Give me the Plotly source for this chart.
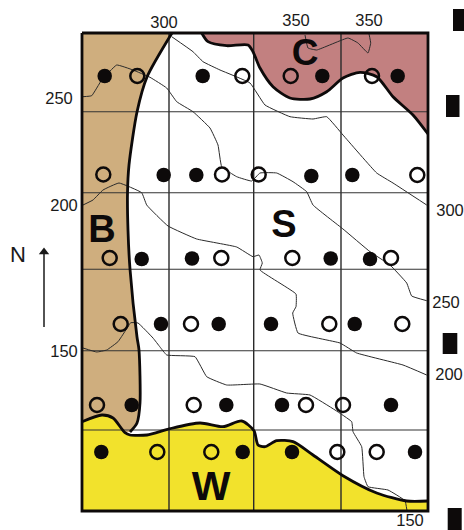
import plotly.graph_objects as go

# All positions (map sheet units, origin top-left)
SHEET_W, SHEET_H = 464, 530
FRAME_X = [82, 428, 428, 82, 82]
FRAME_Y = [33, 33, 511, 511, 33]
GRID_X = [169, 253.7, 341]
GRID_Y = [111.7, 192.7, 269.3, 350.7, 430]

BROWN_CURVE_X = [172, 147, 137, 129, 127.5, 128, 130, 137, 139, 140, 137, 130]
BROWN_CURVE_Y = [33, 77, 112, 165, 193, 230, 269, 337, 350, 403, 423, 432]
YELLOW_CURVE_X = [82, 102, 113, 125, 130, 147, 170, 200, 223, 241.7, 254, 258, 265, 276.7, 293, 313, 343, 376.7, 406.7, 428]
YELLOW_CURVE_Y = [421.7, 415, 418, 432.7, 435, 435, 428.7, 423, 426.7, 421, 430.7, 445, 446.7, 440.7, 441.7, 455, 475.7, 493, 501, 501]
PINK_CURVE_X = [201.7, 208, 226.7, 248, 253, 260, 273, 290, 310, 326.7, 343, 360, 376.7, 393, 413, 428]
PINK_CURVE_Y = [33, 41.7, 45.7, 45, 51.7, 68, 86.7, 98, 99, 91.7, 78, 72.3, 76.7, 96.7, 115, 134]

RIVER_1_X = [83, 91.7, 101.7, 116.7, 133, 150, 166.7, 176.7, 193, 210, 218, 221.7, 236.7, 251.7, 260, 276.7, 293, 306.7, 313, 343, 370, 390, 406.7, 411.7, 426.7]
RIVER_1_Y = [96.7, 95.7, 80, 65, 70, 77.3, 88, 101.7, 111.7, 128, 145, 166.7, 176.7, 181, 173, 173, 181.7, 191.7, 205, 229, 251.7, 265, 283, 296, 300.7]
RIVER_2_X = [171.7, 193, 203, 220, 250, 265, 290, 313, 326.7, 343, 376.7, 393, 426.7]
RIVER_2_Y = [36.7, 51.7, 61.7, 70, 83, 105, 116.7, 119, 116.7, 135, 173, 183, 205]
RIVER_3_X = [83, 93, 103, 119, 141.7, 146.7, 168, 196.7, 236.7, 253, 259, 262.3, 260, 296, 296, 292.7, 298, 340, 356.7, 403, 426.7]
RIVER_3_Y = [205, 200, 190, 183, 192.7, 205, 226, 239, 247, 256.7, 255, 263, 270, 294, 306.7, 313, 333, 343, 353, 365, 375]
RIVER_4_X = [83, 96.7, 106.7, 118, 128, 130.7, 138, 153, 160, 166.7, 195, 206.7, 226.7, 260, 286.7, 310, 335, 351.7, 353, 361.7, 364, 368, 388, 405, 407]
RIVER_4_Y = [348, 352, 350, 341.7, 326.7, 322.7, 323, 338, 347, 355, 356.7, 376.7, 385, 384, 393, 395, 410, 421.7, 431.7, 446.7, 476.7, 486.7, 490, 500.7, 510.7]
RIVER_5_X = [305, 308, 316.7, 348, 358, 368, 370.7, 369]
RIVER_5_Y = [35, 48, 50, 38, 43, 53, 43, 34]

FILLED_X = [104.7, 202.7, 322.3, 397.7, 163.7, 196.3, 311.3, 352.3, 141.7, 192, 330.7, 370, 161, 218.7, 271, 354.7, 131.7, 226.3, 282, 391, 101.3, 242.7, 292, 415]
FILLED_Y = [76, 76, 76, 76, 175, 175, 176, 175, 259, 258.5, 258.5, 259, 324, 324, 324, 324, 405, 405, 405, 405, 452, 452, 452, 452]
OPEN_X = [137.3, 242.3, 290.7, 372, 103.3, 222, 258.7, 417.3, 109.7, 221.3, 292.3, 391, 120.7, 191, 329.3, 402.3, 97, 193.7, 306, 343, 157.3, 211.3, 337.3, 376.7]
OPEN_Y = [76, 76, 76, 76, 174.5, 174.5, 174.5, 175, 258, 258, 258, 258, 324, 324, 324, 324, 405, 405, 405, 405, 452, 452, 452, 452]

CONTOUR_TEXT = ["300", "350", "350", "250", "200", "150", "300", "250", "200", "150"]
CONTOUR_X = [164, 296, 369, 59, 64, 64, 450, 446, 449, 410]
CONTOUR_Y = [24, 21.5, 22, 100, 207, 353, 212, 304, 376, 521.5]
ZONE_TEXT = ["C", "B", "S", "W"]
ZONE_X = [305, 102, 284, 211]
ZONE_Y = [56, 232.5, 227.5, 489.5]
ZONE_SIZE = [37, 38, 38, 41]

BAR_X0 = [453, 446, 442.7, 447.7]
BAR_X1 = [464, 459.5, 457.3, 461.7]
BAR_Y0 = [9, 95, 333, 508]
BAR_Y1 = [31, 117, 354, 530]

ARROW_X = [44, 44]
ARROW_Y = [327, 252]

BROWN, PINK, YELLOW = "#cfae7e", "#c28080", "#f2e22c"
INK = "#0d0a0a"

fig = go.Figure()


def line(x, y, width, color=INK, shape="spline", smoothing=0.7):
    kw = dict(shape=shape, width=width, color=color)
    if shape == "spline":
        kw["smoothing"] = smoothing
    fig.add_trace(go.Scatter(x=x, y=y, mode="lines", line=kw, hoverinfo="skip", showlegend=False))


def area(x, y, color):
    fig.add_trace(go.Scatter(x=x, y=y, mode="lines", fill="toself", fillcolor=color,
                             line=dict(width=0, color=color, shape="spline", smoothing=0.7),
                             hoverinfo="skip", showlegend=False))


L, R, T, B = FRAME_X[0], FRAME_X[1], FRAME_Y[0], FRAME_Y[2]

# zones: curve plus the corners of the frame (repeated so they stay sharp)
area(BROWN_CURVE_X + [BROWN_CURVE_X[-1], L, L, L, L, L, L],
     BROWN_CURVE_Y + [BROWN_CURVE_Y[-1], 432, 432, 432, T, T, T], BROWN)
area(PINK_CURVE_X + [R, R, R, R],
     PINK_CURVE_Y + [PINK_CURVE_Y[-1], T, T, T], PINK)
area(YELLOW_CURVE_X + [R, R, R, L, L, L],
     YELLOW_CURVE_Y + [B, B, B, B, B, B], YELLOW)

for gx in GRID_X:
    line([gx, gx], [T, B], 1.4, "#2a2a2a", "linear")
for gy in GRID_Y:
    line([L, R], [gy, gy], 1.1, "#333333", "linear")

for rx, ry in [(RIVER_1_X, RIVER_1_Y), (RIVER_2_X, RIVER_2_Y), (RIVER_3_X, RIVER_3_Y),
               (RIVER_4_X, RIVER_4_Y), (RIVER_5_X, RIVER_5_Y)]:
    line(rx, ry, 1.0, "#2b2b2b", "spline", 0.3)

line(BROWN_CURVE_X, BROWN_CURVE_Y, 2.8)
line(PINK_CURVE_X, PINK_CURVE_Y, 2.8)
line(YELLOW_CURVE_X, YELLOW_CURVE_Y, 2.8)
line(FRAME_X, FRAME_Y, 2.8, INK, "linear")

fig.add_trace(go.Scatter(x=FILLED_X, y=FILLED_Y, mode="markers",
                         marker=dict(size=14.5, color=INK, line=dict(width=0)),
                         hoverinfo="skip", showlegend=False))
fig.add_trace(go.Scatter(x=OPEN_X, y=OPEN_Y, mode="markers",
                         marker=dict(size=14, color="rgba(0,0,0,0)", line=dict(width=2.5, color=INK)),
                         hoverinfo="skip", showlegend=False))

fig.add_trace(go.Scatter(x=CONTOUR_X, y=CONTOUR_Y, text=CONTOUR_TEXT, mode="text",
                         textfont=dict(family="Liberation Sans", size=16.5, color="#1a1a1a"),
                         hoverinfo="skip", showlegend=False))
fig.add_trace(go.Scatter(x=ZONE_X, y=ZONE_Y, text=ZONE_TEXT, mode="text",
                         textfont=dict(family="Liberation Sans", size=ZONE_SIZE, color=INK, weight="bold"),
                         hoverinfo="skip", showlegend=False))
fig.add_trace(go.Scatter(x=[18], y=[256], text=["N"], mode="text",
                         textfont=dict(family="Liberation Sans", size=22, color="#1a1a1a"),
                         hoverinfo="skip", showlegend=False))

# north arrow
line(ARROW_X, ARROW_Y, 1.5, "#1a1a1a", "linear")
fig.add_trace(go.Scatter(x=[ARROW_X[0]], y=[ARROW_Y[1]], mode="markers",
                         marker=dict(symbol="triangle-up", size=9, color="#1a1a1a", line=dict(width=0)),
                         hoverinfo="skip", showlegend=False))

# black strips on the right
for x0, x1, y0, y1 in zip(BAR_X0, BAR_X1, BAR_Y0, BAR_Y1):
    fig.add_trace(go.Scatter(x=[x0, x1, x1, x0, x0], y=[y0, y0, y1, y1, y0], mode="lines",
                             fill="toself", fillcolor=INK, line=dict(width=0, color=INK),
                             hoverinfo="skip", showlegend=False))

fig.update_layout(width=SHEET_W, height=SHEET_H, margin=dict(l=0, r=0, t=0, b=0),
                  paper_bgcolor="white", plot_bgcolor="white", showlegend=False,
                  xaxis=dict(visible=False, range=[0, SHEET_W], fixedrange=True),
                  yaxis=dict(visible=False, range=[SHEET_H, 0], fixedrange=True))

fig.write_html("out.html", config=dict(displayModeBar=False),
               post_script="document.body.style.margin='0';document.body.style.overflow='hidden';")
